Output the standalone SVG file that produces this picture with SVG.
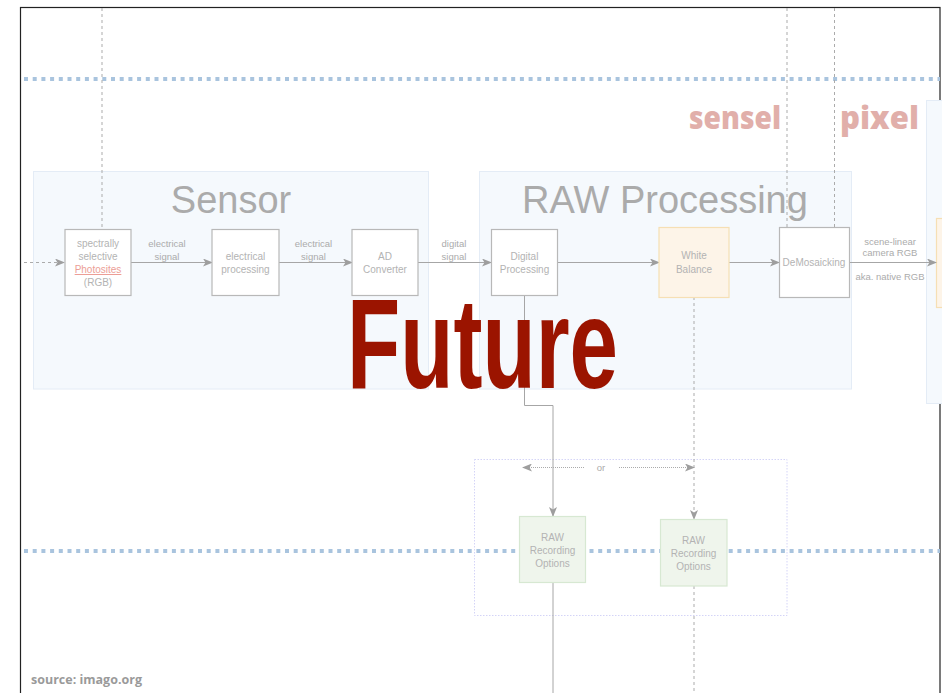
<svg xmlns="http://www.w3.org/2000/svg" width="942" height="693" viewBox="0 0 942 693">
  <defs>
    <marker id="arr" viewBox="0 0 10 8" refX="9" refY="4" markerWidth="10" markerHeight="8" markerUnits="userSpaceOnUse" orient="auto">
      <path d="M0,0 L10,4 L0,8 L2.5,4 z" fill="#9e9e9e"/>
    </marker>
    <style>
      .grp { fill: #f5f9fd; stroke: #e4ecf6; stroke-width: 1; }
      .box { fill: #ffffff; stroke: #b8b8b8; stroke-width: 1.2; }
      .wb { fill: #fdf4e8; stroke: #f6dfb4; stroke-width: 1.2; }
      .rec { fill: #eff5ec; stroke: #d7e8d2; stroke-width: 1.2; }
      .lbl { font-family: "Liberation Sans", Arial, sans-serif; font-size: 10px; fill: #b3b3b3; text-anchor: middle; }
      .elbl { font-family: "Liberation Sans", Arial, sans-serif; font-size: 9.5px; fill: #ababab; text-anchor: middle; }
      .title { font-family: "Liberation Sans", Arial, sans-serif; font-size: 38px; fill: #ababab; text-anchor: middle; }
      .edge { fill: none; stroke: #a6a6a6; stroke-width: 1; }
      .dash { fill: none; stroke: #ababab; stroke-width: 1; stroke-dasharray: 3 3; }
      .band { fill: none; stroke: #a9c4de; stroke-width: 4; stroke-dasharray: 4 4.7; }
      .tag { font-family: "Open Sans", "DejaVu Sans", sans-serif; font-weight: 800; font-size: 31px; fill: #e1afaa; }
    </style>
  </defs>

  <!-- page frame -->
  <rect x="20.5" y="7.5" width="919.5" height="700" fill="#ffffff" stroke="#222222" stroke-width="1.2"/>

  <!-- horizontal bands -->
  <line class="band" x1="24" y1="79" x2="940" y2="79"/>
  <line class="band" x1="24" y1="551" x2="940" y2="551"/>

  <!-- group containers -->
  <g id="sensor-group">
    <rect class="grp" x="33.5" y="171.5" width="395" height="217.5"/>
    <text class="title" x="231" y="213">Sensor</text>
  </g>
  <g id="raw-processing-group">
    <rect class="grp" x="479.5" y="171.5" width="372" height="217.5"/>
    <text class="title" x="665" y="213">RAW Processing</text>
  </g>
  <g id="output-group">
    <rect class="grp" x="926.5" y="100.5" width="30" height="303"/>
    <rect class="wb" x="936.5" y="218.5" width="20" height="89"/>
  </g>
  <g id="recording-group">
    <rect x="474.5" y="459.5" width="312.5" height="156" fill="none" stroke="#d4d4f7" stroke-width="1" stroke-dasharray="1.5 1.5"/>
  </g>

  <!-- connectors -->
  <g id="connectors">
    <line class="dash" x1="102" y1="8" x2="102" y2="229"/>
    <line class="dash" x1="787" y1="8" x2="787" y2="227"/>
    <line class="dash" x1="834.5" y1="8" x2="834.5" y2="227"/>

    <line class="dash" x1="24" y1="262.5" x2="64" y2="262.5" marker-end="url(#arr)"/>
    <line class="edge" x1="131" y1="262.5" x2="212" y2="262.5" marker-end="url(#arr)"/>
    <line class="edge" x1="279" y1="262.5" x2="352" y2="262.5" marker-end="url(#arr)"/>
    <line class="edge" x1="418" y1="262.5" x2="491" y2="262.5" marker-end="url(#arr)"/>
    <line class="edge" x1="558" y1="262.5" x2="659" y2="262.5" marker-end="url(#arr)"/>
    <line class="edge" x1="729" y1="262.5" x2="779" y2="262.5" marker-end="url(#arr)"/>
    <line class="edge" x1="849" y1="262.5" x2="936" y2="262.5" marker-end="url(#arr)"/>

    <polyline class="edge" points="524.5,295 524.5,405.5 553,405.5 553,516" marker-end="url(#arr)"/>
    <line class="edge" x1="553" y1="582" x2="553" y2="693"/>
    <line class="dash" x1="694" y1="297" x2="694" y2="519" marker-end="url(#arr)"/>
    <line class="dash" x1="694" y1="586" x2="694" y2="693"/>

    <line x1="584" y1="467.5" x2="523" y2="467.5" fill="none" stroke="#ababab" stroke-width="1" stroke-dasharray="1 1" marker-end="url(#arr)"/>
    <line x1="619" y1="467.5" x2="694" y2="467.5" fill="none" stroke="#ababab" stroke-width="1" stroke-dasharray="1 1" marker-end="url(#arr)"/>
    <text class="elbl" x="601" y="470.5">or</text>

    <text class="elbl" x="167" y="246.5">electrical</text>
    <text class="elbl" x="167" y="259.5">signal</text>
    <text class="elbl" x="313.5" y="246.5">electrical</text>
    <text class="elbl" x="313.5" y="259.5">signal</text>
    <text class="elbl" x="454" y="246.5">digital</text>
    <text class="elbl" x="454" y="259.5">signal</text>
    <text class="elbl" x="890" y="245">scene-linear</text>
    <text class="elbl" x="890" y="256">camera RGB</text>
    <text class="elbl" x="890" y="280">aka. native RGB</text>
  </g>

  <!-- nodes -->
  <g id="photosites">
    <rect class="box" x="65" y="229.5" width="66" height="66"/>
    <text class="lbl" x="98" y="247">spectrally</text>
    <text class="lbl" x="98" y="260">selective</text>
    <text class="lbl" x="98" y="273" style="fill:#ec9e96" text-decoration="underline">Photosites</text>
    <text class="lbl" x="98" y="286">(RGB)</text>
  </g>
  <g id="electrical-processing">
    <rect class="box" x="212" y="229.5" width="67" height="66"/>
    <text class="lbl" x="245.5" y="260">electrical</text>
    <text class="lbl" x="245.5" y="273">processing</text>
  </g>
  <g id="ad-converter">
    <rect class="box" x="352" y="229.5" width="66" height="66"/>
    <text class="lbl" x="385" y="260">AD</text>
    <text class="lbl" x="385" y="273">Converter</text>
  </g>
  <g id="digital-processing">
    <rect class="box" x="491.5" y="229.5" width="66" height="66"/>
    <text class="lbl" x="524.5" y="260">Digital</text>
    <text class="lbl" x="524.5" y="273">Processing</text>
  </g>
  <g id="white-balance">
    <rect class="wb" x="659" y="227.5" width="70" height="70"/>
    <text class="lbl" x="694" y="259">White</text>
    <text class="lbl" x="694" y="273">Balance</text>
  </g>
  <g id="demosaicking">
    <rect class="box" x="779.5" y="227.5" width="70" height="70"/>
    <text class="lbl" x="814" y="266">DeMosaicking</text>
  </g>
  <g id="raw-recording-1">
    <rect class="rec" x="519.5" y="516.5" width="66" height="66"/>
    <text class="lbl" x="552.5" y="540.5">RAW</text>
    <text class="lbl" x="552.5" y="553.5">Recording</text>
    <text class="lbl" x="552.5" y="566.5">Options</text>
  </g>
  <g id="raw-recording-2">
    <rect class="rec" x="660.5" y="519.5" width="66.5" height="66.5"/>
    <text class="lbl" x="693.5" y="543.5">RAW</text>
    <text class="lbl" x="693.5" y="556.5">Recording</text>
    <text class="lbl" x="693.5" y="569.5">Options</text>
  </g>

  <!-- tags -->
  <text class="tag" x="689" y="129" textLength="92" lengthAdjust="spacingAndGlyphs">sensel</text>
  <text class="tag" x="840" y="129" textLength="79" lengthAdjust="spacingAndGlyphs">pixel</text>

  <text x="347" y="388" font-family="'Liberation Sans', Arial, sans-serif" font-weight="bold" font-size="128" fill="#9b1400" textLength="271" lengthAdjust="spacingAndGlyphs">Future</text>

  <text x="31" y="684" font-family="'Open Sans', 'DejaVu Sans', sans-serif" font-weight="bold" font-size="12.5" fill="#9a9a9a">source: imago.org</text>
</svg>
